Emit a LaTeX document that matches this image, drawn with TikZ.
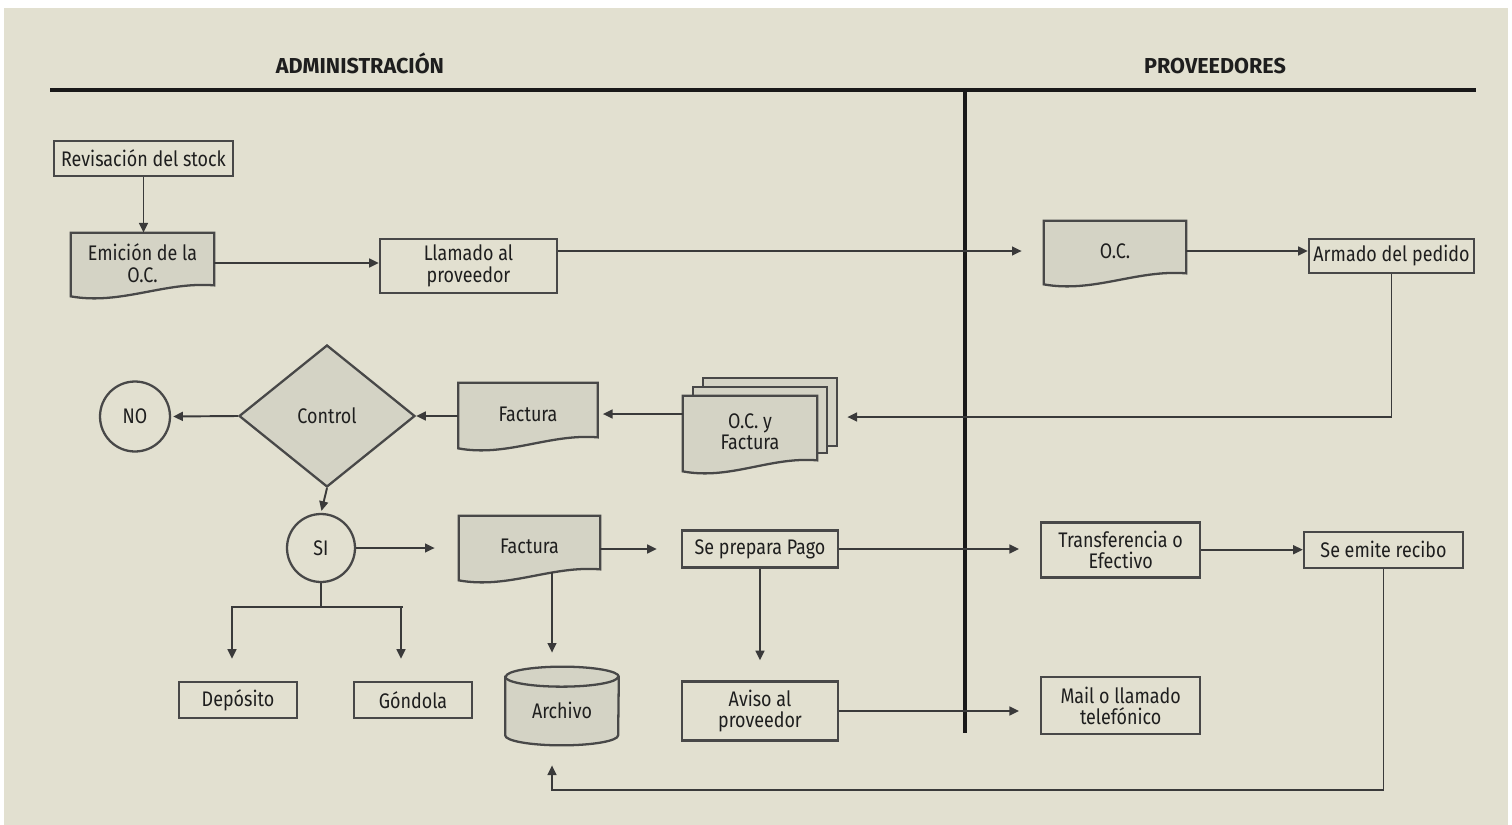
\documentclass[tikz,border=0pt]{standalone}
\usepackage{fontspec}
\setmainfont{Fira Sans}[FakeStretch=0.85]
\newfontfamily\lanefont{Fira Sans}
\usepackage{tikz}
\usetikzlibrary{calc, shapes.geometric, arrows.meta, positioning, backgrounds}

\newcommand{\boxfont}{\fontsize{12}{12.2}\selectfont}
% documento con borde ondulado (se dibuja detras del nodo)
\newcommand{\docshape}[1]{%
  \filldraw[shp] (#1.north west) -- (#1.north east) -- ([yshift=0.16cm]#1.south east)
    .. controls ($(#1.south west)!0.65!(#1.south east)+(0,0.24cm)$)
    and ($(#1.south west)!0.35!(#1.south east)+(0,-0.24cm)$) .. ([yshift=-0.06cm]#1.south west) -- cycle;}

\begin{document}
\begin{tikzpicture}[x=0.02cm, y=-0.02cm,
    box/.style={draw=boxline, line width=1.3pt, inner sep=0pt, align=center, font=\boxfont, text=txt},
    doc/.style={inner sep=0pt, align=center, font=\boxfont, text=txt},
    shp/.style={draw=boxline, fill=shapegray, line width=1.3pt},
    ln/.style={draw=linecol, line width=1.1pt},
    arr/.style={ln, -{Triangle[length=5.5pt, width=5pt]}},
    lane/.style={font=\lanefont\bfseries\fontsize{12.3}{14}\selectfont, text=txt, anchor=base}]
    % Colores
    \definecolor{bgbeige}{RGB}{226, 224, 208}
    \definecolor{shapegray}{RGB}{212, 211, 197}
    \definecolor{boxline}{RGB}{72, 72, 72}
    \definecolor{linecol}{RGB}{58, 58, 58}
    \definecolor{rulecol}{RGB}{25, 25, 25}
    \definecolor{txt}{RGB}{30, 30, 30}

    \useasboundingbox (0,0) rectangle (1512,825);
    \begin{scope}[on background layer]
        \fill[white] (0,0) rectangle (1512,825);
        \fill[bgbeige] (4,8) rectangle (1508,825);
    \end{scope}

    % 1. Carriles
    \node[lane] (adm) at (360,73) {ADMINISTRACIÓN};
    \node[lane] (prov) at (1215,73) {PROVEEDORES};
    \draw[rulecol, line width=2pt] (50,90) -- (1476,90);
    \draw[rulecol, line width=2pt] (965,90) -- (965,733);

    % 2. Nodos
    \node[box, minimum width=3.58cm, minimum height=0.70cm] (rev) at (143.5,158.5) {Revisación del stock};
    \node[doc, minimum width=2.86cm, minimum height=1.20cm] (emi) at (142.5,263) {Emición de la\\O.C.};
    \node[box, minimum width=3.54cm, minimum height=1.08cm] (llam) at (468.5,266) {Llamado al\\proveedor};
    \node[doc, minimum width=2.84cm, minimum height=1.20cm] (oc) at (1115,251) {O.C.};
    \node[box, minimum width=3.30cm, minimum height=0.68cm] (arm) at (1391.5,256) {Armado del pedido};
    \node[doc, minimum width=2.68cm, minimum height=1.44cm] (ocf) at (750,432) {O.C. y\\Factura};
    \node[doc, minimum width=2.78cm, minimum height=1.24cm] (fac1) at (528,414) {Factura};
    \node[diamond, shp, inner sep=0pt, minimum width=3.52cm, minimum height=2.84cm, font=\boxfont, text=txt] (ctrl) at (327,416) {Control};
    \node[circle, draw=boxline, line width=1.3pt, minimum size=1.40cm, inner sep=0pt, font=\boxfont, text=txt] (no) at (135,416.5) {NO};
    \node[circle, draw=boxline, line width=1.3pt, minimum size=1.36cm, inner sep=0pt, font=\boxfont, text=txt] (si) at (321,548) {SI};
    \node[doc, minimum width=2.82cm, minimum height=1.22cm] (fac2) at (529.5,546.5) {Factura};
    \node[box, minimum width=3.12cm, minimum height=0.74cm] (prep) at (760,549) {Se prepara Pago};
    \node[box, minimum width=2.36cm, minimum height=0.72cm] (dep) at (238,700) {Depósito};
    \node[box, minimum width=2.36cm, minimum height=0.72cm] (gon) at (413,700) {Góndola};
    \node[doc, minimum width=2.26cm, minimum height=1.56cm, text height=14pt, text depth=0pt] (arch) at (562,706) {Archivo};
    \node[box, minimum width=3.12cm, minimum height=1.18cm] (aviso) at (760,711) {Aviso al\\proveedor};
    \node[box, minimum width=3.18cm, minimum height=1.10cm] (transf) at (1120.7,550) {Transferencia o\\Efectivo};
    \node[box, minimum width=3.18cm, minimum height=1.14cm] (mail) at (1120.7,705.7) {Mail o llamado\\telefónico};
    \node[box, minimum width=3.18cm, minimum height=0.72cm] (recibo) at (1383.5,549.7) {Se emite recibo};

    % 3. Formas detras de los textos
    \begin{scope}[on background layer]
        \docshape{emi}
        \docshape{oc}
        \docshape{fac1}
        \docshape{fac2}
        \foreach \k in {2,1}
            \filldraw[shp] ([shift={(\k*0.2cm,\k*0.18cm)}]ocf.north west) rectangle ([shift={(\k*0.2cm,0.16cm+\k*0.14cm)}]ocf.south east);
        \docshape{ocf}
        % cilindro del archivo
        \filldraw[shp] ([yshift=-0.2cm]arch.north west) -- ([yshift=0.2cm]arch.south west)
            arc[start angle=180, end angle=360, x radius=1.13cm, y radius=0.2cm]
            -- ([yshift=-0.2cm]arch.north east)
            arc[start angle=0, end angle=180, x radius=1.13cm, y radius=0.2cm] -- cycle;
        \draw[shp, fill=none] ([yshift=-0.2cm]arch.north west)
            arc[start angle=180, end angle=360, x radius=1.13cm, y radius=0.2cm];
    \end{scope}

    % 4. Conectores
    \draw[arr] (rev.south) -- (rev.south |- emi.north);
    \draw[arr] (emi.east) -- (llam.west |- emi.east);
    \draw[arr, shorten >=0.44cm] (llam.east |- oc.west) -- (oc.west);
    \draw[arr] (oc.east) -- (arm.west |- oc.east);
    \draw[arr, shorten >=0.6cm] (arm.south) |- ([yshift=0.30cm]ocf.east);
    \draw[arr, shorten >=0.1cm] (ocf.west |- fac1.east) -- (fac1.east);
    \draw[arr] (fac1.west |- ctrl.east) -- (ctrl.east);
    \draw[arr, shorten >=0.04cm] (ctrl.west) -- (no.east);
    \draw[arr, shorten >=0.04cm] (ctrl.south) -- (si.north);
    \draw[arr, shorten >=0.48cm] (si.east) -- (si.east -| fac2.west);
    \draw[arr, shorten >=0.48cm] (fac2.east |- prep.west) -- (prep.west);
    \draw[arr, shorten >=0.42cm] (prep.east) -- (transf.west |- prep.east);
    \draw[arr] (transf.east |- recibo.west) -- (recibo.west);
    \draw[arr, shorten >=0.4cm] (prep.south) -- (aviso.north);
    \draw[arr, shorten >=0.42cm] (aviso.east) -- (mail.west |- aviso.east);
    \draw[arr, shorten >=0.28cm] ([xshift=-0.2cm, yshift=0.1cm]arch.north |- fac2.south) -- ([xshift=-0.2cm]arch.north);
    % reparto desde SI
    \coordinate (brL) at (231,607);
    \coordinate (brR) at (403,607);
    \draw[ln] (si.south) -- (si.south |- brL);
    \draw[ln] (brL) -- (brR);
    \draw[arr, shorten >=0.44cm] ([xshift=0.02cm]brL) -- ([xshift=0.02cm]brL |- dep.north);
    \draw[arr, shorten >=0.44cm] ([xshift=-0.04cm]brR) -- ([xshift=-0.04cm]brR |- gon.north);
    % retorno del recibo al archivo
    \draw[arr, shorten >=0.4cm] (recibo.south) |- ([xshift=-0.2cm, yshift=-0.9cm]arch.south) -- ([xshift=-0.2cm]arch.south);
\end{tikzpicture}
\end{document}
